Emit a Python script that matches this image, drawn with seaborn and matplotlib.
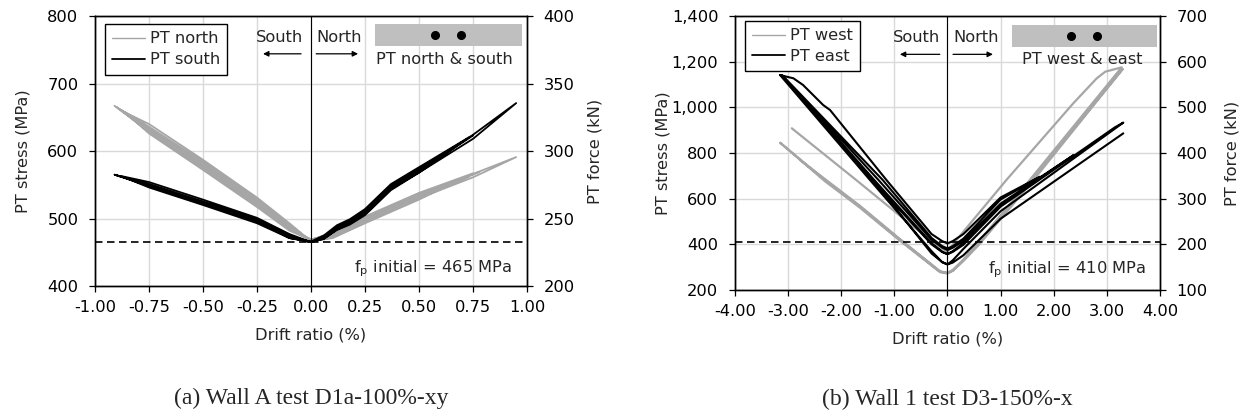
import numpy as np
import matplotlib
matplotlib.use("Agg")
import matplotlib.pyplot as plt
from matplotlib.lines import Line2D
from matplotlib.patches import Rectangle
from matplotlib.ticker import MultipleLocator, FuncFormatter, FormatStrFormatter
import pandas as pd
import seaborn as sns

sns.set_style("white")
plt.rcParams['font.family'] = ['DejaVu Sans']
plt.rcParams['axes.unicode_minus'] = False
plt.rcParams['mathtext.default'] = 'regular'

GRAY = '#a6a6a6'
FS = 11.7

# ---- (a) Wall A test D1a-100%-xy : drift ratio (%) vs PT stress (MPa) ----
a_north_x = [0.00, 0.10, 0.25, 0.50, 0.75, 0.50, 0.25, 0.10, 0.00, -0.10, -0.25, -0.50, -0.75, -0.86, -0.75, -0.50, -0.25, -0.10, 0.00,
             0.10, 0.25, 0.50, 0.73, 0.50, 0.25, 0.10, 0.00, -0.10, -0.25, -0.50, -0.75, -0.88, -0.75, -0.50, -0.25, -0.10, 0.00,
             0.10, 0.25, 0.50, 0.78, 0.50, 0.25, 0.10, 0.00, -0.10, -0.25, -0.50, -0.75, -0.90, -0.75, -0.50, -0.25, -0.10, 0.00,
             0.10, 0.25, 0.50, 0.75, 0.95, 0.75, 0.50, 0.25, 0.10, 0.00, -0.10, -0.25, -0.50, -0.75, -0.91, -0.75, -0.50, -0.25, -0.10, 0.00]
a_north_y = [468, 480, 503, 538, 567, 528, 493, 471, 466, 493, 531, 587, 640, 657, 626, 572, 517, 482, 468,
             478, 501, 536, 562, 530, 495, 473, 467, 491, 528, 584, 636, 661, 629, 575, 519, 484, 469,
             476, 499, 534, 569, 531, 496, 474, 467, 489, 526, 581, 633, 665, 628, 574, 520, 485, 469,
             477, 500, 535, 566, 591, 561, 530, 494, 472, 466, 488, 525, 580, 634, 667, 630, 577, 522, 485, 468]

a_south_x = [0.00, 0.06, 0.12, 0.18, 0.25, 0.37, 0.50, 0.73, 0.50, 0.37, 0.25, 0.18, 0.12, 0.06, 0.00, -0.10, -0.25, -0.50, -0.75, -0.88, -0.75, -0.50, -0.25, -0.10, 0.00,
             0.06, 0.12, 0.18, 0.25, 0.37, 0.50, 0.75, 0.50, 0.37, 0.25, 0.18, 0.12, 0.06, 0.00, -0.10, -0.25, -0.50, -0.75, -0.90, -0.75, -0.50, -0.25, -0.10, 0.00,
             0.06, 0.12, 0.18, 0.25, 0.37, 0.50, 0.75, 0.95, 0.75, 0.50, 0.37, 0.25, 0.18, 0.12, 0.06, 0.00, -0.10, -0.25, -0.50, -0.75, -0.91, -0.75, -0.50, -0.25, -0.10, 0.00]
a_south_y = [466, 475, 490, 499, 514, 551, 576, 620, 568, 542, 505, 491, 483, 470, 465, 477, 501, 528, 554, 563, 546, 520, 493, 471, 465,
             473, 488, 497, 512, 549, 574, 623, 570, 544, 507, 493, 485, 471, 465, 475, 499, 525, 551, 564, 548, 522, 495, 472, 465,
             472, 488, 495, 510, 547, 572, 624, 671, 618, 568, 544, 507, 493, 484, 470, 465, 474, 497, 524, 550, 565, 549, 523, 496, 471, 466]

# ---- (b) Wall 1 test D3-150%-x ----
b_west_x = [-2.93, -1.71, -0.64, -0.30, -0.10, 0.00, 0.17, 1.11, 2.37, 2.81, 2.97, 3.28,
            1.55, 0.55, 0.30, 0.10, 0.00, -0.14, -0.89, -1.65, -2.31, -3.15,
            -2.31, -1.65, -0.89, -0.14, 0.00, 0.10, 0.30, 0.55, 1.58, 3.30,
            1.60, 0.58, 0.30, 0.10, 0.00, -0.14, -0.89, -1.65, -2.78]
b_west_y = [908, 680, 477, 416, 380, 368, 419, 682, 1018, 1127, 1156, 1175,
            682, 400, 333, 288, 275, 280, 419, 565, 682, 845,
            677, 561, 415, 278, 272, 285, 330, 397, 682, 1168,
            676, 395, 327, 284, 274, 282, 422, 569, 770]

b_east_x = [-3.15, -2.90, -2.72, -2.34, -2.21, -1.15, -0.30, -0.10, 0.00,
            0.10, 0.30, 1.00, 1.74, 1.00, 0.30, 0.10, 0.00,
            -0.10, -0.30, -1.22, -3.10, -1.30, -0.30, -0.10, 0.00,
            0.10, 0.30, 1.00, 2.37, 1.00, 0.30, 0.10, 0.00,
            -0.10, -0.30, -1.38, -3.12, -1.42, -0.30, -0.10, 0.00,
            0.10, 0.30, 1.00, 3.15, 3.31, 1.00, 0.30, 0.10, 0.00,
            -0.10, -0.30, -1.46, -3.15, -1.40, -0.30, -0.10, 0.00,
            0.10, 0.30, 1.00, 3.31]
b_east_y = [1141, 1127, 1098, 1010, 988, 682, 445, 414, 404,
            414, 445, 605, 696, 596, 425, 392, 382,
            392, 428, 682, 1138, 682, 420, 386, 375,
            385, 415, 578, 790, 572, 405, 370, 357,
            368, 405, 682, 1140, 682, 400, 366, 357,
            367, 398, 565, 912, 933, 545, 380, 330, 312,
            322, 370, 682, 1141, 682, 360, 322, 312,
            320, 352, 512, 886]


def path_df(x, y):
    return pd.DataFrame({'drift': x, 'stress': y})


fig = plt.figure(figsize=(12.47, 4.17), dpi=100)
ax1 = fig.add_axes([0.0762, 0.3141, 0.3464, 0.6475])
ax2 = fig.add_axes([0.5894, 0.3046, 0.3408, 0.6571])

sns.lineplot(data=path_df(a_north_x, a_north_y), x='drift', y='stress', sort=False,
             estimator=None, color=GRAY, lw=1.3, ax=ax1)
sns.lineplot(data=path_df(a_south_x, a_south_y), x='drift', y='stress', sort=False,
             estimator=None, color='black', lw=1.3, ax=ax1)
sns.lineplot(data=path_df(b_west_x, b_west_y), x='drift', y='stress', sort=False,
             estimator=None, color=GRAY, lw=1.6, ax=ax2)
sns.lineplot(data=path_df(b_east_x, b_east_y), x='drift', y='stress', sort=False,
             estimator=None, color='black', lw=1.5, ax=ax2)


def style_panel(ax, xlim, xstep, ylim, ystep, flim, fstep, yfmt, fp, names, pos):
    ax.set_xlim(*xlim)
    ax.set_ylim(*ylim)
    ax.xaxis.set_major_locator(MultipleLocator(xstep))
    ax.xaxis.set_major_formatter(FormatStrFormatter('%.2f'))
    ax.yaxis.set_major_locator(MultipleLocator(ystep))
    ax.yaxis.set_major_formatter(yfmt)
    ax.grid(True, color='#d9d9d9', lw=1)
    ax.set_axisbelow(True)
    for s in ax.spines.values():
        s.set_color('black')
        s.set_linewidth(1.0)
    ax.tick_params(axis='both', direction='out', length=4, width=0.9, colors='black',
                   labelsize=FS, bottom=True, left=True)
    ax.tick_params(axis='x', pad=6)
    ax.tick_params(axis='y', pad=8)
    ax.axvline(0, color='black', lw=0.8, zorder=3)
    ax.axhline(fp, color='black', lw=1.2, dashes=(4.5, 2.7), zorder=3)
    ax.set_xlabel('Drift ratio (%)', fontsize=FS)
    ax.set_ylabel('PT stress (MPa)', fontsize=FS)
    ax.xaxis.set_label_coords(0.5, pos['xl'])
    ax.yaxis.set_label_coords(pos['yl'], 0.5)

    axr = ax.twinx()
    axr.set_ylim(*flim)
    axr.yaxis.set_major_locator(MultipleLocator(fstep))
    axr.tick_params(axis='y', direction='out', length=4, width=0.9, colors='black',
                    labelsize=FS, right=True, pad=8)
    for s in axr.spines.values():
        s.set_color('black')
        s.set_linewidth(1.0)
    axr.set_ylabel('PT force (kN)', fontsize=FS)
    axr.yaxis.set_label_coords(pos['yr'], 0.5)

    leg = ax.legend(handles=[Line2D([], [], color=GRAY, lw=1.0), Line2D([], [], color='black', lw=1.3)],
                    labels=names, loc='upper left', bbox_to_anchor=pos['leg'], borderaxespad=0,
                    frameon=True, fancybox=False, edgecolor='black', framealpha=1, fontsize=FS,
                    handlelength=2.0, handletextpad=0.3, labelspacing=0.36, borderpad=0.45)
    leg.get_frame().set_linewidth(1.0)

    # direction labels
    ax.text(pos['south'], 0.92, 'South', ha='center', va='center', fontsize=FS, transform=ax.transAxes)
    ax.text(pos['north'], 0.92, 'North', ha='center', va='center', fontsize=FS, transform=ax.transAxes)
    ax.annotate('', xy=(pos['sa'][1], 0.86), xytext=(pos['sa'][0], 0.86), xycoords='axes fraction',
                arrowprops=dict(arrowstyle='-|>', color='black', lw=0.9, mutation_scale=8, shrinkA=0, shrinkB=0))
    ax.annotate('', xy=(pos['na'][1], 0.86), xytext=(pos['na'][0], 0.86), xycoords='axes fraction',
                arrowprops=dict(arrowstyle='-|>', color='black', lw=0.9, mutation_scale=8, shrinkA=0, shrinkB=0))

    # tendon location sketch
    r0, r1, ry0, ry1 = pos['rect']
    ax.add_patch(Rectangle((r0, ry0), r1 - r0, ry1 - ry0, transform=ax.transAxes,
                           facecolor='#bfbfbf', edgecolor='none', zorder=4))
    ax.plot(pos['dots'], [(ry0 + ry1) / 2] * 2, 'o', color='black', ms=5.5,
            transform=ax.transAxes, zorder=5)
    ax.text(pos['rtxt'], 0.84, names[0] + ' & ' + names[1].split()[-1], ha='right', va='center',
            fontsize=FS, transform=ax.transAxes, zorder=5)
    ax.text(pos['fpx'], pos['fpy'], 'f$_p$ initial = %d MPa' % fp, ha='right', va='center',
            fontsize=FS, transform=ax.transAxes, zorder=5)
    return axr


style_panel(ax1, (-1, 1), 0.25, (400, 800), 100, (200, 400), 50,
            FormatStrFormatter('%d'), 465, ['PT north', 'PT south'],
            dict(xl=-0.155, yl=-0.15, yr=1.14, leg=(0.023, 0.97),
                 south=0.426, north=0.565, sa=(0.477, 0.389), na=(0.512, 0.609),
                 rect=(0.648, 0.988, 0.889, 0.970), dots=[0.787, 0.847],
                 rtxt=0.968, fpx=0.965, fpy=0.063))

style_panel(ax2, (-4, 4), 1.0, (200, 1400), 200, (100, 700), 100,
            FuncFormatter(lambda v, p: f'{v:,.0f}'), 410, ['PT west', 'PT east'],
            dict(xl=-0.15, yl=-0.151, yr=1.153, leg=(0.0235, 0.982),
                 south=0.427, north=0.567, sa=(0.482, 0.388), na=(0.513, 0.607),
                 rect=(0.652, 0.993, 0.887, 0.967), dots=[0.791, 0.852],
                 rtxt=0.96, fpx=0.967, fpy=0.073))

fig.text(311 / 1247, 1 - 398 / 417, '(a) Wall A test D1a-100%-xy', ha='center', va='center',
         fontsize=17, family='Liberation Serif')
fig.text(947.5 / 1247, 1 - 399 / 417, '(b) Wall 1 test D3-150%-x', ha='center', va='center',
         fontsize=17, family='Liberation Serif')

fig.savefig('out.png', dpi=100)
